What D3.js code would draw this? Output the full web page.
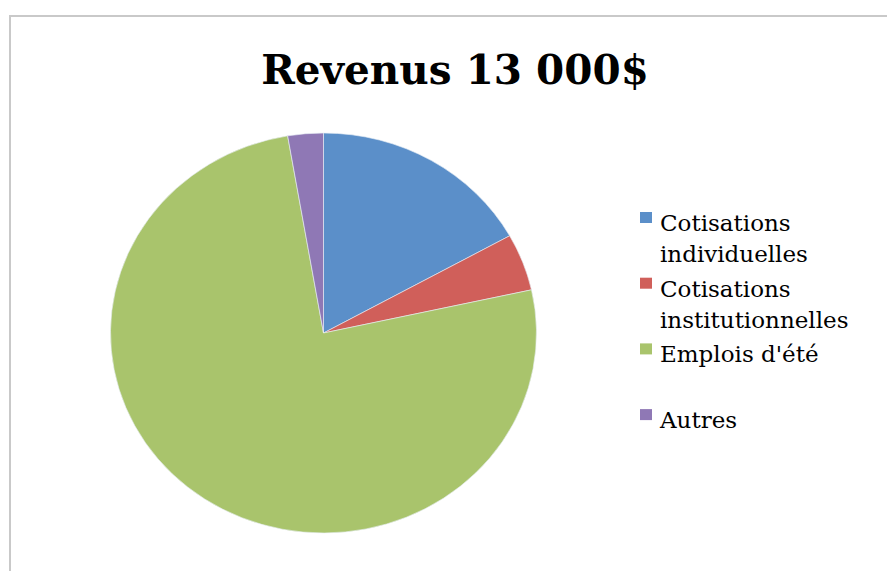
<!DOCTYPE html>
<html>
<head>
<meta charset="utf-8">
<script src="https://cdn.jsdelivr.net/npm/d3@7.9.0/dist/d3.min.js"></script>
<style>
  html, body { margin: 0; padding: 0; background: #fff; }
  svg { display: block; }
</style>
</head>
<body>
<svg id="chart" width="887" height="571"></svg>
<script>
// data (total 13 000$)
const categories = ['Cotisations individuelles', 'Cotisations institutionnelles', "Emplois d'été", 'Autres'];
const legendLines = [['Cotisations', 'individuelles'], ['Cotisations', 'institutionnelles'], ["Emplois d'été"], ['Autres']];
const values = [2200, 600, 9850, 350];
const colorList = ['#5b8fc9', '#d05f5a', '#a9c46c', '#8f78b5'];
const title = 'Revenus 13 000$';

const svg = d3.select('#chart');

// chart frame (only top and left edges show in the crop)
svg.append('path')
  .attr('d', 'M10,571 V16 H887')
  .attr('fill', 'none')
  .attr('stroke', '#c9c9c9')
  .attr('stroke-width', 2);

svg.append('text')
  .attr('x', 455)
  .attr('y', 84)
  .attr('text-anchor', 'middle')
  .attr('font-family', 'DejaVu Serif')
  .attr('font-weight', 'bold')
  .attr('font-size', 40.5)
  .attr('fill', '#000')
  .text(title);

let colors = d3.scaleOrdinal().domain(categories).range(colorList);

let pie = d3.pie().sort(null).value((d, i) => values[i]);
let arcGenerator = d3.arc().innerRadius(0).outerRadius(200);
let arcData = pie(categories);

// the picture is a bit wider than tall, so stretch the pie horizontally
let pieG = svg.append('g').attr('transform', 'translate(323.5,333) scale(1.065,1)');
arcData.forEach((d) => {
  pieG.append('path')
    .attr('d', arcGenerator(d))
    .attr('fill', colors(d.data))
    .attr('stroke', '#e8eef5')
    .attr('stroke-width', 0.6);
});

// legend, entries spaced evenly like Excel does
let legend = svg.append('g').attr('transform', 'translate(640,212)');
let step = 65.7;
categories.forEach((c, i) => {
  let item = legend.append('g').attr('transform', `translate(0,${i * step})`);
  item.append('rect')
    .attr('width', 12)
    .attr('height', 11)
    .attr('fill', colors(c));
  let txt = item.append('text')
    .attr('x', 20)
    .attr('y', 19)
    .attr('font-family', 'DejaVu Serif')
    .attr('font-size', 23)
    .attr('fill', '#000');
  legendLines[i].forEach((line, j) => {
    txt.append('tspan')
      .attr('x', 20)
      .attr('dy', j === 0 ? 0 : 31)
      .text(line);
  });
});
</script>
</body>
</html>
